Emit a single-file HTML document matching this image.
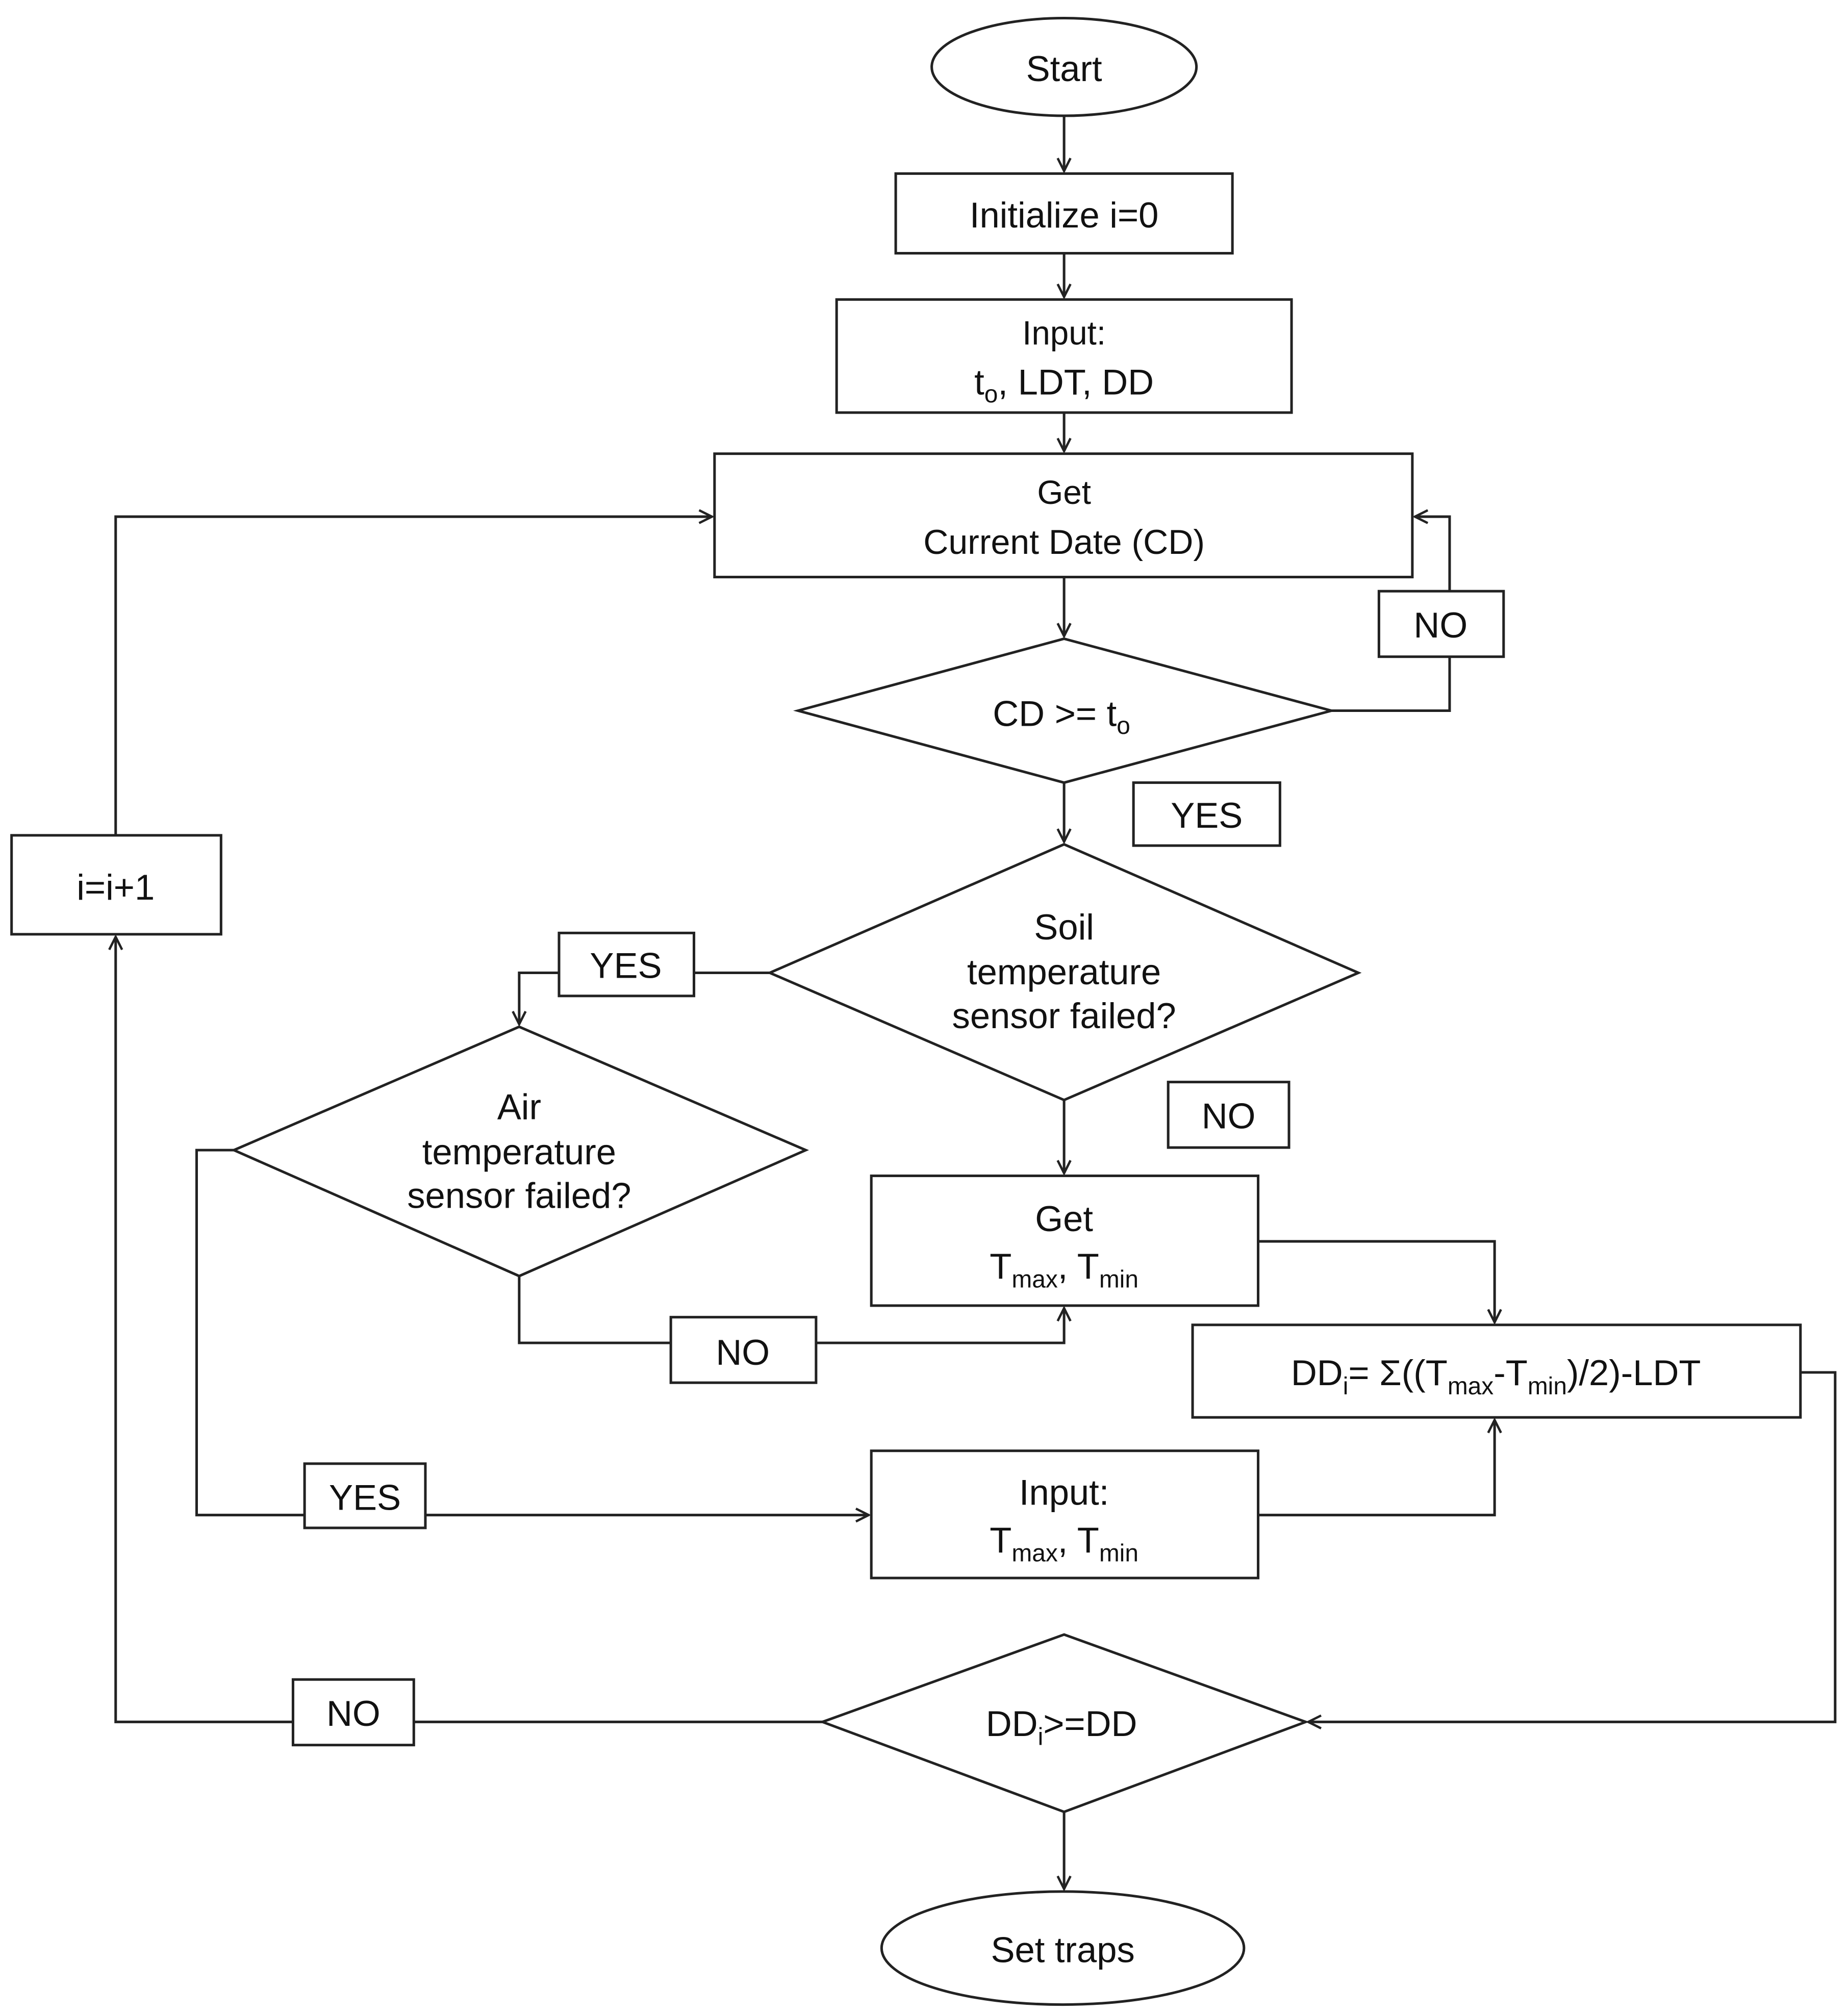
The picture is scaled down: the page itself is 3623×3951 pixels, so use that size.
<!DOCTYPE html>
<html><head><meta charset="utf-8"><style>
html,body{margin:0;padding:0;background:#fff;}
svg{display:block;}
text{font-family:"Liberation Sans",Arial,sans-serif;font-size:28px;fill:#111;text-anchor:middle;}
</style></head><body>
<svg width="3623" height="3951" viewBox="0 0 1438 1568" xmlns="http://www.w3.org/2000/svg">
<defs>
<marker id="a" viewBox="0 0 12 12" refX="11" refY="6" markerWidth="12" markerHeight="12" markerUnits="userSpaceOnUse" orient="auto">
<path d="M1,1 L11,6 L1,11" fill="none" stroke="#222" stroke-width="1.8"/>
</marker>
</defs>
<g fill="#fff" stroke="#222" stroke-width="2">
<ellipse cx="828" cy="52" rx="103" ry="38"/>
<rect x="697" y="135" width="262" height="62"/>
<rect x="651" y="233" width="354" height="88"/>
<rect x="556" y="353" width="543" height="96"/>
<polygon points="828,497 1036,553 828,609 621,553"/>
<polygon points="828,657 1057,757 828,856 599,757"/>
<polygon points="404,799 627,895 404,993 182,895"/>
<rect x="678" y="915" width="301" height="101"/>
<rect x="928" y="1031" width="473" height="72"/>
<rect x="678" y="1129" width="301" height="99"/>
<polygon points="828,1272 1016,1340 828,1410 640,1340"/>
<ellipse cx="827" cy="1516" rx="141" ry="44"/>
<rect x="9" y="650" width="163" height="77"/>
</g>
<g fill="none" stroke="#222" stroke-width="2">
<path d="M828,90 V133" marker-end="url(#a)"/>
<path d="M828,197 V231" marker-end="url(#a)"/>
<path d="M828,321 V351" marker-end="url(#a)"/>
<path d="M828,449 V495" marker-end="url(#a)"/>
<path d="M1036,553 H1128 V402 H1101" marker-end="url(#a)"/>
<path d="M828,609 V655" marker-end="url(#a)"/>
<path d="M599,757 H404 V797" marker-end="url(#a)"/>
<path d="M828,856 V913" marker-end="url(#a)"/>
<path d="M404,993 V1045 H828 V1018" marker-end="url(#a)"/>
<path d="M979,966 H1163 V1029" marker-end="url(#a)"/>
<path d="M182,895 H153 V1179 H676" marker-end="url(#a)"/>
<path d="M979,1179 H1163 V1105" marker-end="url(#a)"/>
<path d="M1401,1068 H1428 V1340 H1018" marker-end="url(#a)"/>
<path d="M828,1410 V1470" marker-end="url(#a)"/>
<path d="M640,1340 H90 V729" marker-end="url(#a)"/>
<path d="M90,650 V402 H554" marker-end="url(#a)"/>
</g>
<g fill="#fff" stroke="#222" stroke-width="2">
<rect x="1073" y="460" width="97" height="51"/>
<rect x="882" y="609" width="114" height="49"/>
<rect x="435" y="726" width="105" height="49"/>
<rect x="909" y="842" width="94" height="51"/>
<rect x="522" y="1025" width="113" height="51"/>
<rect x="237" y="1139" width="94" height="50"/>
<rect x="228" y="1307" width="94" height="51"/>
</g>
<text x="828" y="63">Start</text>
<text x="828" y="177">Initialize i=0</text>
<text x="828" y="268" style="font-size:26px">Input:</text>
<text x="828" y="307">t<tspan font-size="19" dy="6">o</tspan><tspan dy="-6">, LDT, DD</tspan></text>
<text x="828" y="392" style="font-size:26px">Get</text>
<text x="828" y="431" style="font-size:27px">Current Date (CD)</text>
<text x="826" y="565">CD &gt;= t<tspan font-size="19" dy="6">o</tspan></text>
<text x="1121" y="496">NO</text>
<text x="939" y="644">YES</text>
<text x="828" y="731">Soil</text>
<text x="828" y="766">temperature</text>
<text x="828" y="800">sensor failed?</text>
<text x="487" y="761">YES</text>
<text x="404" y="871">Air</text>
<text x="404" y="906">temperature</text>
<text x="404" y="940">sensor failed?</text>
<text x="956" y="878">NO</text>
<text x="828" y="958">Get</text>
<text x="828" y="995">T<tspan font-size="19" dy="7">max</tspan><tspan dy="-7">, T</tspan><tspan font-size="19" dy="7">min</tspan></text>
<text x="578" y="1062">NO</text>
<text x="1164" y="1078">DD<tspan font-size="19" dy="7">i</tspan><tspan dy="-7">= Σ((T</tspan><tspan font-size="19" dy="7">max</tspan><tspan dy="-7">-T</tspan><tspan font-size="19" dy="7">min</tspan><tspan dy="-7">)/2)-LDT</tspan></text>
<text x="284" y="1175">YES</text>
<text x="828" y="1171">Input:</text>
<text x="828" y="1208">T<tspan font-size="19" dy="7">max</tspan><tspan dy="-7">, T</tspan><tspan font-size="19" dy="7">min</tspan></text>
<text x="275" y="1343">NO</text>
<text x="826" y="1351">DD<tspan font-size="19" dy="7">i</tspan><tspan dy="-7">&gt;=DD</tspan></text>
<text x="827" y="1527">Set traps</text>
<text x="90" y="700">i=i+1</text>
</svg>
</body></html>
